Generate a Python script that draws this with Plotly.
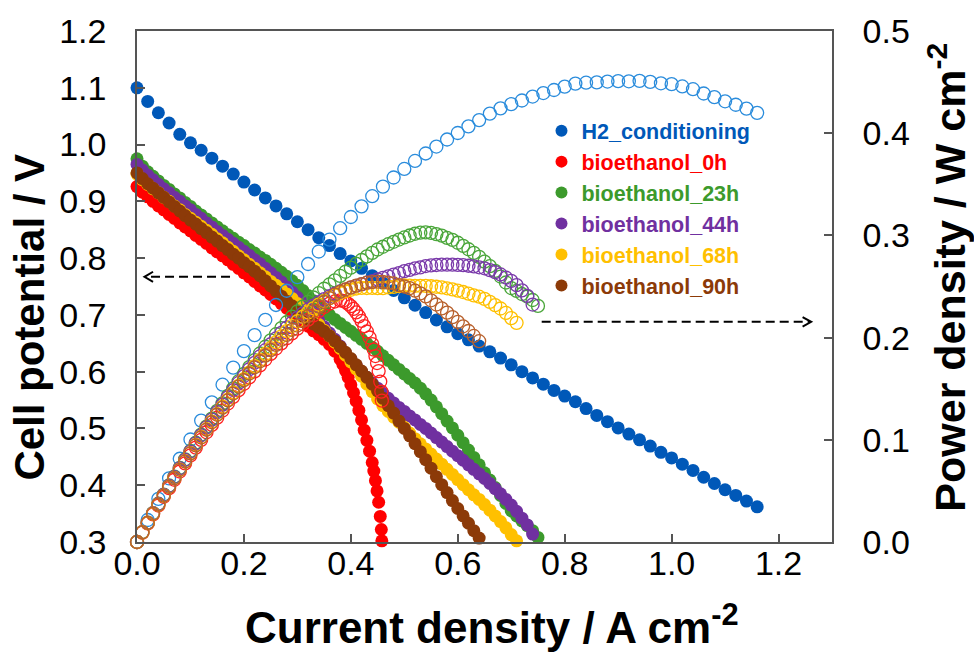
import plotly.graph_objects as go

# ---------------- data ----------------
current_h2 = [0.00, 0.02, 0.04, 0.06, 0.08, 0.10, 0.12, 0.14, 0.16, 0.18,
              0.20, 0.22, 0.24, 0.26, 0.28, 0.30, 0.32, 0.34, 0.36, 0.38,
              0.40, 0.42, 0.44, 0.46, 0.48, 0.50, 0.52, 0.54, 0.56, 0.58,
              0.60, 0.62, 0.64, 0.66, 0.68, 0.70, 0.72, 0.74, 0.76, 0.78,
              0.80, 0.82, 0.84, 0.86, 0.88, 0.90, 0.92, 0.94, 0.96, 0.98,
              1.00, 1.02, 1.04, 1.06, 1.08, 1.10, 1.12, 1.14, 1.16]
voltage_h2 = [1.100, 1.076, 1.056, 1.038, 1.018, 1.003, 0.990, 0.976, 0.962, 0.948,
              0.934, 0.920, 0.906, 0.892, 0.878, 0.864, 0.850, 0.836, 0.822, 0.808,
              0.795, 0.782, 0.769, 0.756, 0.743, 0.730, 0.717, 0.704, 0.691, 0.679,
              0.667, 0.656, 0.645, 0.635, 0.624, 0.612, 0.600, 0.589, 0.578, 0.567,
              0.557, 0.547, 0.535, 0.523, 0.512, 0.501, 0.490, 0.480, 0.469, 0.458,
              0.448, 0.437, 0.426, 0.414, 0.403, 0.392, 0.382, 0.372, 0.362]

current_0h = [0.00, 0.01, 0.02, 0.03, 0.04, 0.05, 0.06, 0.07, 0.08, 0.09,
              0.10, 0.11, 0.12, 0.13, 0.14, 0.15, 0.16, 0.17, 0.18, 0.19,
              0.20, 0.21, 0.22, 0.23, 0.24, 0.25, 0.26, 0.27, 0.28, 0.29,
              0.30, 0.31, 0.32, 0.33, 0.34, 0.35, 0.36, 0.37, 0.38, 0.385,
              0.39, 0.395, 0.40, 0.405, 0.41, 0.415, 0.42, 0.425, 0.43, 0.435,
              0.44, 0.443, 0.446, 0.449, 0.452, 0.455, 0.457, 0.458]
voltage_0h = [0.926, 0.916, 0.908, 0.900, 0.892, 0.885, 0.877, 0.870, 0.862, 0.855,
              0.848, 0.840, 0.833, 0.826, 0.818, 0.811, 0.804, 0.797, 0.789, 0.782,
              0.774, 0.767, 0.759, 0.751, 0.744, 0.736, 0.728, 0.720, 0.712, 0.704,
              0.696, 0.688, 0.680, 0.672, 0.665, 0.657, 0.648, 0.636, 0.622, 0.613,
              0.602, 0.590, 0.577, 0.563, 0.548, 0.532, 0.515, 0.497, 0.479, 0.460,
              0.440, 0.425, 0.408, 0.390, 0.370, 0.345, 0.322, 0.302]

current_bio = [0.00, 0.01, 0.02, 0.03, 0.04, 0.05, 0.06, 0.07, 0.08, 0.09,
               0.10, 0.11, 0.12, 0.13, 0.14, 0.15, 0.16, 0.17, 0.18, 0.19,
               0.20, 0.21, 0.22, 0.23, 0.24, 0.25, 0.26, 0.27, 0.28, 0.29,
               0.30, 0.31, 0.32, 0.33, 0.34, 0.35, 0.36, 0.37, 0.38, 0.39,
               0.40, 0.41, 0.42, 0.43, 0.44, 0.45, 0.46, 0.47, 0.48, 0.49,
               0.50, 0.51, 0.52, 0.53, 0.54, 0.55, 0.56, 0.57, 0.58, 0.59,
               0.60, 0.61, 0.62, 0.63, 0.64, 0.65, 0.66, 0.67, 0.68, 0.69,
               0.70, 0.71, 0.72, 0.73, 0.74, 0.75]

voltage_23h = [0.975, 0.962, 0.952, 0.944, 0.936, 0.928, 0.921, 0.913, 0.906, 0.898,
               0.891, 0.883, 0.876, 0.869, 0.862, 0.855, 0.848, 0.841, 0.835, 0.828,
               0.822, 0.815, 0.809, 0.802, 0.796, 0.789, 0.782, 0.775, 0.768, 0.760,
               0.752, 0.743, 0.734, 0.725, 0.716, 0.708, 0.700, 0.692, 0.685, 0.678,
               0.671, 0.664, 0.657, 0.650, 0.643, 0.636, 0.628, 0.620, 0.612, 0.604,
               0.596, 0.588, 0.580, 0.571, 0.561, 0.550, 0.538, 0.526, 0.513, 0.501,
               0.488, 0.475, 0.462, 0.449, 0.436, 0.422, 0.409, 0.396, 0.382, 0.368,
               0.355, 0.346, 0.337, 0.329, 0.320, 0.308]

voltage_44h = [0.965, 0.955, 0.946, 0.938, 0.930, 0.922, 0.915, 0.907, 0.900, 0.892,
               0.885, 0.877, 0.870, 0.862, 0.855, 0.847, 0.840, 0.833, 0.826, 0.819,
               0.812, 0.805, 0.797, 0.790, 0.782, 0.774, 0.766, 0.758, 0.749, 0.740,
               0.731, 0.721, 0.711, 0.701, 0.690, 0.679, 0.668, 0.657, 0.645, 0.633,
               0.622, 0.611, 0.600, 0.590, 0.580, 0.571, 0.562, 0.553, 0.545, 0.537,
               0.530, 0.522, 0.515, 0.507, 0.500, 0.492, 0.484, 0.476, 0.468, 0.460,
               0.452, 0.444, 0.436, 0.428, 0.420, 0.412, 0.403, 0.394, 0.385, 0.375,
               0.365, 0.354, 0.342, 0.330, 0.314]

voltage_68h = [0.948, 0.938, 0.930, 0.922, 0.915, 0.907, 0.900, 0.892, 0.885, 0.877,
               0.870, 0.863, 0.856, 0.849, 0.842, 0.834, 0.827, 0.819, 0.812, 0.804,
               0.797, 0.789, 0.782, 0.774, 0.767, 0.759, 0.752, 0.745, 0.737, 0.729,
               0.720, 0.711, 0.702, 0.693, 0.683, 0.673, 0.663, 0.652, 0.641, 0.629,
               0.617, 0.605, 0.592, 0.578, 0.565, 0.552, 0.540, 0.530, 0.520, 0.511,
               0.502, 0.492, 0.482, 0.473, 0.464, 0.455, 0.446, 0.437, 0.428, 0.419,
               0.410, 0.401, 0.392, 0.383, 0.375, 0.366, 0.356, 0.346, 0.336, 0.325,
               0.313, 0.302]

voltage_90h = [0.950, 0.940, 0.931, 0.923, 0.915, 0.907, 0.899, 0.891, 0.883, 0.875,
               0.867, 0.860, 0.852, 0.845, 0.837, 0.830, 0.822, 0.815, 0.807, 0.800,
               0.792, 0.785, 0.777, 0.769, 0.760, 0.751, 0.742, 0.733, 0.724, 0.716,
               0.706, 0.698, 0.691, 0.684, 0.678, 0.671, 0.663, 0.654, 0.644, 0.634,
               0.623, 0.612, 0.601, 0.590, 0.578, 0.566, 0.553, 0.540, 0.527, 0.513,
               0.500, 0.487, 0.473, 0.459, 0.445, 0.430, 0.415, 0.401, 0.387, 0.373,
               0.359, 0.346, 0.333, 0.320, 0.307]

series_names = ["H2_conditioning", "bioethanol_0h", "bioethanol_23h",
                "bioethanol_44h", "bioethanol_68h", "bioethanol_90h"]
series_current = [current_h2, current_0h, current_bio, current_bio, current_bio, current_bio]
series_voltage = [voltage_h2, voltage_0h, voltage_23h, voltage_44h, voltage_68h, voltage_90h]

x_ticks = [0.0, 0.2, 0.4, 0.6, 0.8, 1.0, 1.2]
y_ticks = [0.3, 0.4, 0.5, 0.6, 0.7, 0.8, 0.9, 1.0, 1.1, 1.2]
y2_ticks = [0.0, 0.1, 0.2, 0.3, 0.4, 0.5]

# ---------------- styles ----------------
fill_colors = ["#0058b8", "#ff0000", "#3c9a2c", "#7030a0", "#ffc000", "#8c3a08"]
open_colors = ["#2a8cdc", "#ff2020", "#4aa63a", "#7a3aaa", "#ffc000", "#b8602c"]

TICK_FONT = dict(family="Liberation Sans, Arial", size=34, color="#000000")
AX = "#555555"

fig = go.Figure()

# cell potential (filled)
for name, cur, vol, col in zip(series_names, series_current, series_voltage, fill_colors):
    n = min(len(cur), len(vol))
    fig.add_trace(go.Scatter(
        x=cur[:n], y=vol[:n], mode="markers", yaxis="y",
        name=f"<span style='color:{col}'><b>{name}</b></span>",
        marker=dict(symbol="circle", size=13, color=col, line=dict(width=0)),
        cliponaxis=False, showlegend=True))

# power density (open) = current density x cell potential
for name, cur, vol, col in zip(series_names, series_current, series_voltage, open_colors):
    n = min(len(cur), len(vol))
    power = [c * v for c, v in zip(cur[:n], vol[:n])]
    fig.add_trace(go.Scatter(
        x=cur[:n], y=power, mode="markers", yaxis="y2",
        name=name + " power",
        marker=dict(symbol="circle-open", size=13, color=col, line=dict(width=1.3, color=col)),
        cliponaxis=False, showlegend=False))

# dashed arrows
fig.add_shape(type="line", xref="x", yref="y", x0=0.174, y0=0.767, x1=0.016, y1=0.767,
              line=dict(color="#000000", width=2, dash="9px,5px"))
fig.add_shape(type="path", xref="x", yref="y",
              path="M 0.030,0.776 L 0.014,0.767 L 0.030,0.758",
              line=dict(color="#000000", width=2))
fig.add_shape(type="line", xref="x", yref="y2", x0=0.757, y0=0.2154, x1=1.258, y1=0.2154,
              line=dict(color="#000000", width=2, dash="9px,5px"))
fig.add_shape(type="path", xref="x", yref="y2",
              path="M 1.245,0.2200 L 1.261,0.2154 L 1.245,0.2108",
              line=dict(color="#000000", width=2))

# axis titles
title_font = lambda s: dict(family="Liberation Sans, Arial", size=s, color="#000000", weight="bold")
fig.add_annotation(text="Current density / A cm<sup>-2</sup>", xref="paper", yref="paper",
                   x=0.511, y=-0.162, xanchor="center", yanchor="middle",
                   showarrow=False, font=title_font(44))
fig.add_annotation(text="Cell potential / V", xref="paper", yref="paper",
                   x=-0.154, y=0.441, xanchor="center", yanchor="middle", textangle=-90,
                   showarrow=False, font=title_font(42))
fig.add_annotation(text="Power density / W cm<sup>-2</sup>", xref="paper", yref="paper",
                   x=1.166, y=0.518, xanchor="center", yanchor="middle", textangle=-90,
                   showarrow=False, font=title_font(43))

fig.update_layout(
    width=974, height=654,
    margin=dict(l=137, r=142, t=29, b=112),
    paper_bgcolor="white", plot_bgcolor="white",
    showlegend=True,
    legend=dict(x=0.582, y=0.845, xanchor="left", yanchor="top",
                bgcolor="rgba(0,0,0,0)", borderwidth=0,
                font=dict(family="Liberation Sans, Arial", size=21.5, weight="bold"),
                itemwidth=30, tracegroupgap=0, itemsizing="constant"),
    xaxis=dict(range=[0, 1.3], tickvals=x_ticks, ticktext=[f"{v:.1f}" for v in x_ticks],
               ticks="inside", ticklen=8, tickwidth=1.5, tickcolor=AX,
               showline=True, linecolor=AX, linewidth=1.5, mirror=True,
               showgrid=False, zeroline=False, tickfont=TICK_FONT, ticklabelstandoff=-10),
    yaxis=dict(range=[0.3, 1.2], tickvals=y_ticks, ticktext=[f"{v:.1f}" for v in y_ticks],
               ticks="inside", ticklen=8, tickwidth=1.5, tickcolor=AX,
               showline=True, linecolor=AX, linewidth=1.5,
               showgrid=False, zeroline=False, tickfont=TICK_FONT, ticklabelstandoff=22),
    yaxis2=dict(range=[0, 0.5], tickvals=y2_ticks, ticktext=[f"{v:.1f}" for v in y2_ticks],
                overlaying="y", side="right",
                ticks="inside", ticklen=8, tickwidth=1.5, tickcolor=AX,
                showline=True, linecolor=AX, linewidth=1.5,
                showgrid=False, zeroline=False, tickfont=TICK_FONT, ticklabelstandoff=22),
)

fig.write_html("out.html")
